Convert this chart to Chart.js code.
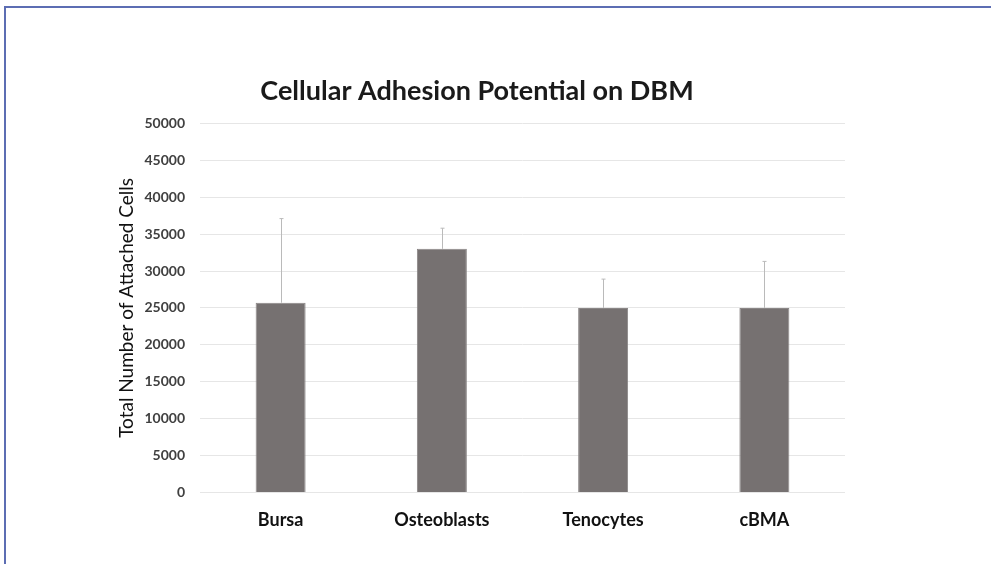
<!doctype html>
<html>
<head>
    <title>Cellular Adhesion Potential on DBM</title>
    <script src="https://cdn.jsdelivr.net/npm/chart.js"></script>
    <style>
        body { margin: 0; background: #fff; }
        #frame {
            position: absolute; left: 4px; top: 6px; width: 1000px; height: 600px;
            border-top: 2px solid #5c6db3; border-left: 2px solid #5c6db3;
        }
        #grafico { position: absolute; left: 0; top: 0; }
    </style>
</head>
<body>
    <div id="frame"></div>
    <canvas id="grafico" width="991" height="564"></canvas>

    <script>
        // dados
        var categorias = ['Bursa', 'Osteoblasts', 'Tenocytes', 'cBMA'];
        var valores = [25700, 33000, 25000, 25000];
        var erros = [11400, 2800, 3900, 6300];   // barra de erro (so para cima)
        var ticksY = [0, 5000, 10000, 15000, 20000, 25000, 30000, 35000, 40000, 45000, 50000];

        var barrasErro = {
            id: 'barrasErro',
            afterDatasetsDraw(chart) {
                var ctx = chart.ctx;
                var y = chart.scales.y;
                var meta = chart.getDatasetMeta(0);
                ctx.save();
                ctx.strokeStyle = '#bababa';
                ctx.lineWidth = 1;
                meta.data.forEach((bar, i) => {
                    var x = Math.round(bar.x) + 0.5;
                    var topo = y.getPixelForValue(valores[i] + erros[i]);
                    ctx.beginPath();
                    ctx.moveTo(x, bar.y);
                    ctx.lineTo(x, topo);
                    ctx.moveTo(x - 2, topo);
                    ctx.lineTo(x + 2, topo);
                    ctx.stroke();
                });
                ctx.restore();
            }
        };

        var grafico = new Chart(document.getElementById('grafico').getContext('2d'), {
            type: 'bar',
            data: {
                labels: categorias,
                datasets: [{
                    data: valores,
                    backgroundColor: '#767171',
                    borderColor: '#8a8686',
                    borderWidth: 1,
                    barPercentage: 0.31,
                    categoryPercentage: 1
                }]
            },
            options: {
                responsive: false,
                animation: false,
                layout: { padding: { left: 109, right: 146, top: 0, bottom: 16 } },
                plugins: {
                    legend: { display: false },
                    tooltip: { enabled: false },
                    title: {
                        display: true,
                        text: 'Cellular Adhesion Potential on DBM',
                        color: '#1a1a1a',
                        font: { family: 'Lato', size: 27, weight: 'bold' },
                        padding: { top: 75, bottom: 16 }
                    }
                },
                scales: {
                    x: {
                        grid: { display: false, drawTicks: false },
                        border: { display: false },
                        ticks: {
                            color: '#111',
                            padding: 17,
                            font: { family: 'Lato', size: 18, weight: 'bold' }
                        }
                    },
                    y: {
                        min: 0,
                        max: 50000,
                        afterFit(scale) { scale.width = 91; },
                        afterBuildTicks(scale) { scale.ticks = ticksY.map(v => ({ value: v })); },
                        grid: { color: '#e6e6e6', drawTicks: false },
                        border: { display: false },
                        ticks: {
                            color: '#404040',
                            padding: 15,
                            callback: (v) => String(v),
                            font: { family: 'Lato', size: 14, weight: 'bold' }
                        },
                        title: {
                            display: true,
                            text: 'Total Number of Attached Cells',
                            color: '#111',
                            padding: { top: 6, bottom: 0 },
                            font: { family: 'Lato', size: 19 }
                        }
                    }
                }
            },
            plugins: [barrasErro]
        });
    </script>
</body>
</html>
